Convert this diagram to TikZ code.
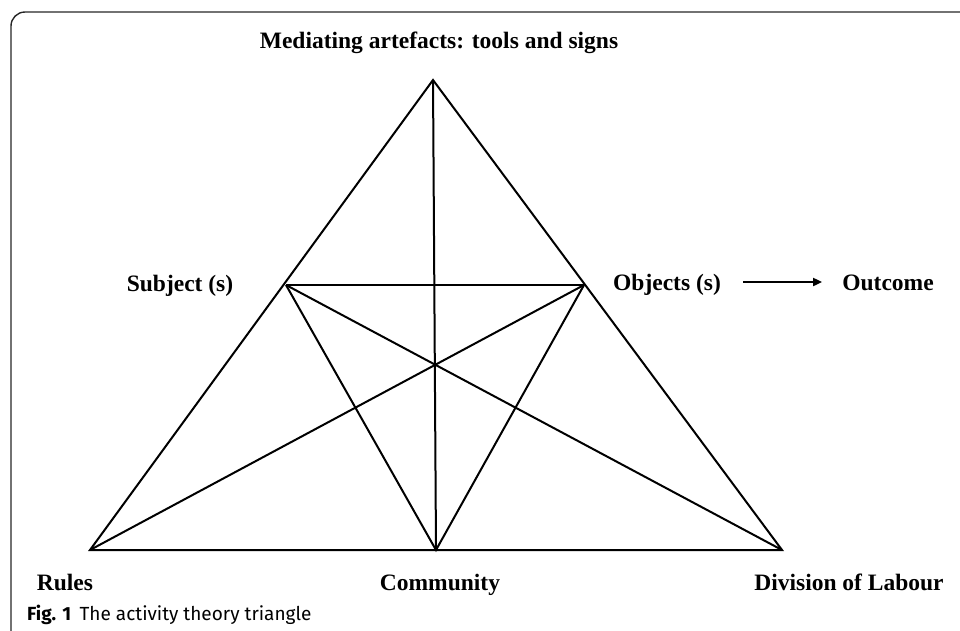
\documentclass[tikz,border=0pt]{standalone}
\usepackage{fontspec}
\setmainfont{Liberation Serif}
\newfontfamily\capfont{Fira Sans}
\usetikzlibrary{arrows.meta}
\begin{document}
\begin{tikzpicture}[x=1pt,y=-1pt,
  edge/.style={line width=2pt,line join=miter},
  lbl/.style={font=\fontsize{23.5}{27}\selectfont\bfseries,inner sep=0pt,anchor=base},
  frame/.style={line width=1.4pt,draw=black!85}]
\useasboundingbox (0,0) rectangle (960,630);
% outer frame (top and left edges only)
\draw[frame,rounded corners=14pt] (11,660) -- (11,12) -- (990,12);
% triangle corners and inner points
\coordinate (apex) at (433,80);
\coordinate (subj) at (286,285);
\coordinate (obj) at (584,285);
\coordinate (rules) at (90,550);
\coordinate (comm) at (436,550);
\coordinate (div) at (782,550);
% outer triangle
\draw[edge] (apex) -- (rules) -- (div) -- cycle;
% inner connectors
\draw[edge] (apex) -- (comm);
\draw[edge] (subj) -- (obj);
\draw[edge] (subj) -- (comm) -- (obj);
\draw[edge] (subj) -- (div);
\draw[edge] (obj) -- (rules);
% labels
\node[lbl] (tmed) at (439,48) {Mediating artefacts: tools and signs};
\node[lbl] (tsubj) at (180,291) {Subject (s)};
\node[lbl] (tobj) at (667,290) {Objects (s)};
\node[lbl] (tout) at (888,290) {Outcome};
\node[lbl] (trules) at (65,590) {Rules};
\node[lbl] (tcomm) at (440,590) {Community};
\node[lbl] (tdiv) at (849,590) {Division of Labour};
\draw[line width=1.8pt,-{Triangle[length=9pt,width=8pt]}] ([xshift=22pt,yshift=8pt]tobj.base east) -- ([xshift=-20pt,yshift=8pt]tout.base west);
% caption
\node[anchor=base west,inner sep=0pt,font=\capfont\fontsize{19}{22}\selectfont] (cap) at (27,620) {\textbf{Fig. 1}\hspace{0.45em}The activity theory triangle};
\end{tikzpicture}
\end{document}
